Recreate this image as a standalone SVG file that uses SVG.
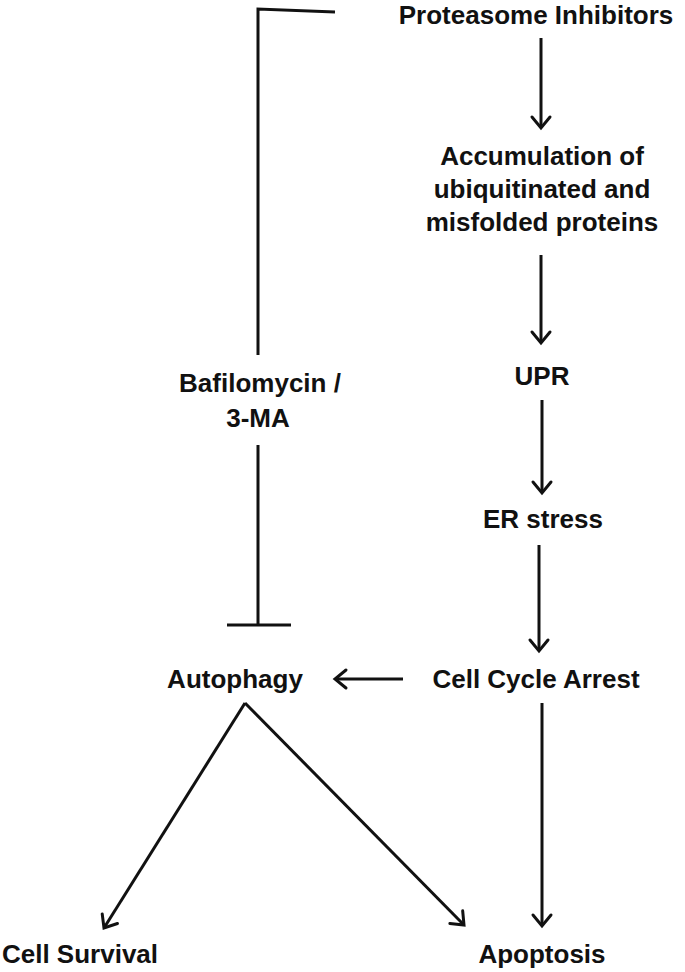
<svg xmlns="http://www.w3.org/2000/svg" width="685" height="972" viewBox="0 0 685 972">
<style>
text{font-family:"Liberation Sans",Arial,sans-serif;font-weight:bold;font-size:26px;fill:#111;text-anchor:middle}
.ln{stroke:#111;stroke-width:3;fill:none}
.ar{marker-end:url(#ah)}
</style>
<defs>
<marker id="ah" markerUnits="userSpaceOnUse" markerWidth="30" markerHeight="30" refX="0" refY="0" viewBox="-15 -15 30 30" orient="auto" overflow="visible">
<path d="M-11,-9 L0,0 L-11,9" fill="none" stroke="#111" stroke-width="3" stroke-linecap="round" stroke-linejoin="miter"/>
</marker>
</defs>
<rect width="685" height="972" fill="#fff"/>
<g id="connectors">
<path class="ln" d="M335,12 L258,9 L258,355"/>
<path class="ln" d="M258,445 L258,625 M227,625 L291,625"/>
<path class="ln ar" d="M541,38 L541,128"/>
<path class="ln ar" d="M541,255 L541,343"/>
<path class="ln ar" d="M542,400 L542,493"/>
<path class="ln ar" d="M539,545 L539,651"/>
<path class="ln ar" d="M403,679 L335,679"/>
<path class="ln ar" d="M542,703 L542,926"/>
<path class="ln ar" d="M245,703 L104,928"/>
<path class="ln ar" d="M245,703 L464,925"/>
</g>
<g id="proteasome"><text x="536" y="24">Proteasome Inhibitors</text></g>
<g id="accumulation"><text x="542" y="165">Accumulation of</text><text x="542" y="198">ubiquitinated and</text><text x="542" y="231">misfolded proteins</text></g>
<g id="upr"><text x="542" y="385">UPR</text></g>
<g id="bafilomycin"><text x="260" y="392">Bafilomycin /</text><text x="258" y="427">3-MA</text></g>
<g id="er"><text x="543" y="528">ER stress</text></g>
<g id="cca"><text x="536" y="688">Cell Cycle Arrest</text></g>
<g id="autophagy"><text x="235" y="688">Autophagy</text></g>
<g id="survival"><text x="80" y="963">Cell Survival</text></g>
<g id="apoptosis"><text x="542" y="963">Apoptosis</text></g>
</svg>
